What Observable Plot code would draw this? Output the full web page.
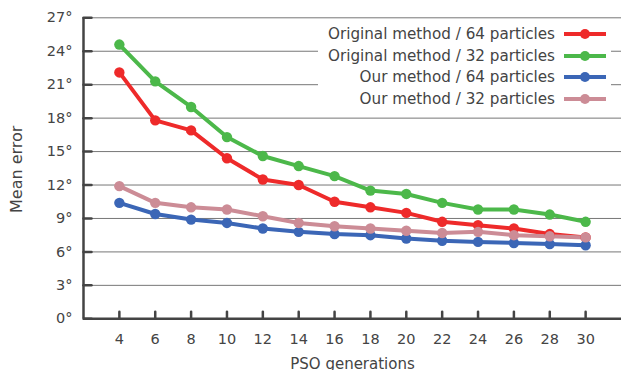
<!DOCTYPE html>
<html>
<head>
<meta charset="utf-8">
<script src="https://cdn.jsdelivr.net/npm/d3@7"></script>
<script src="https://cdn.jsdelivr.net/npm/@observablehq/plot@0.6"></script>
<style>
  html, body { margin: 0; padding: 0; background: white; }
  #wrap { position: relative; width: 621px; height: 370px; overflow: hidden; font-family: "DejaVu Sans", sans-serif; }
  #legend { position: absolute; left: 318px; top: 23.5px; width: 293px; background: white; }
  .row { height: 21.5px; display: flex; align-items: center; justify-content: flex-end; font-size: 15.2px; color: #444; }
  .row svg { margin-left: 9px; margin-right: 5px; }
</style>
</head>
<body>
<div id="wrap"></div>
<script>
const generations = [4, 6, 8, 10, 12, 14, 16, 18, 20, 22, 24, 26, 28, 30];
const orig64 = [22.1, 17.8, 16.9, 14.4, 12.5, 12.0, 10.5, 10.0, 9.5, 8.7, 8.4, 8.1, 7.6, 7.3];
const orig32 = [24.6, 21.3, 19.0, 16.3, 14.6, 13.7, 12.8, 11.5, 11.2, 10.4, 9.8, 9.8, 9.35, 8.7];
const our64  = [10.4, 9.4, 8.9, 8.6, 8.1, 7.8, 7.6, 7.5, 7.2, 7.0, 6.9, 6.8, 6.7, 6.6];
const our32  = [11.9, 10.4, 10.0, 9.8, 9.2, 8.6, 8.3, 8.1, 7.9, 7.7, 7.8, 7.5, 7.4, 7.3];
const seriesNames = ["Original method / 64 particles", "Original method / 32 particles", "Our method / 64 particles", "Our method / 32 particles"];
const seriesValues = [orig64, orig32, our64, our32];
const seriesColors = ["#ee2a2a", "#4cb84a", "#3b66b6", "#cc8c96"];
const yTicks = [0, 3, 6, 9, 12, 15, 18, 21, 24, 27];
const xLabel = "PSO generations";
const yLabel = "Mean error";

const data = [];
seriesNames.forEach((name, i) => {
  generations.forEach((g, j) => data.push({series: name, gen: g, err: seriesValues[i][j]}));
});

const tickShape = {draw(ctx, l) { ctx.moveTo(0, 0); ctx.lineTo(0, -l); }};
const axisColor = "#444";

const chart = Plot.plot({
  width: 621,
  height: 370,
  marginLeft: 83,
  marginRight: 0,
  marginTop: 17.3,
  marginBottom: 51.7,
  style: {fontFamily: "DejaVu Sans", fontSize: "14.5px", color: "#444", background: "white", overflow: "visible"},
  x: {domain: [2, 32]},
  y: {domain: [0, 27]},
  color: {domain: seriesNames, range: seriesColors},
  marks: [
    Plot.gridY(yTicks, {stroke: "#777", strokeOpacity: 1, strokeWidth: 1}),
    Plot.axisY(yTicks, {tickSize: 0, tickPadding: 11, tickFormat: d => d + "°", label: null, fill: "#444"}),
    Plot.axisX(generations, {tickSize: 0, tickPadding: 15, tickFormat: d => String(d), label: null, fill: "#444"}),
    Plot.ruleX([2], {stroke: axisColor, strokeWidth: 2.5}),
    Plot.ruleY([0], {stroke: axisColor, strokeWidth: 2.5}),
    Plot.vector(yTicks, {y: d => d, frameAnchor: "left", length: 8, rotate: 90, anchor: "start", shape: tickShape, stroke: axisColor, strokeWidth: 2.5}),
    Plot.vector(generations, {x: d => d, frameAnchor: "bottom", length: 7, rotate: 0, anchor: "start", shape: tickShape, stroke: axisColor, strokeWidth: 2.5}),
    Plot.line(data, {x: "gen", y: "err", z: "series", stroke: "series", strokeWidth: 4}),
    Plot.dot(data, {x: "gen", y: "err", fill: "series", r: 5.2}),
    Plot.text([xLabel], {frameAnchor: "bottom", lineAnchor: "middle", textAnchor: "middle", dy: 44.9, fontSize: 15, fill: "#444"}),
    Plot.text([yLabel], {frameAnchor: "left", lineAnchor: "middle", textAnchor: "middle", dx: -66.4, dy: 1, rotate: -90, fontSize: 16, fill: "#444"})
  ]
});

const wrap = document.getElementById("wrap");
wrap.appendChild(chart);

const legend = document.createElement("div");
legend.id = "legend";
seriesNames.forEach((name, i) => {
  const row = document.createElement("div");
  row.className = "row";
  const span = document.createElement("span");
  span.textContent = name;
  row.appendChild(span);
  const svg = document.createElementNS("http://www.w3.org/2000/svg", "svg");
  svg.setAttribute("width", "42");
  svg.setAttribute("height", "12");
  svg.innerHTML = `<line x1="0" y1="6" x2="42" y2="6" stroke="${seriesColors[i]}" stroke-width="4"/><circle cx="21" cy="6" r="5" fill="${seriesColors[i]}"/>`;
  row.appendChild(svg);
  legend.appendChild(row);
});
wrap.appendChild(legend);
</script>
</body>
</html>
